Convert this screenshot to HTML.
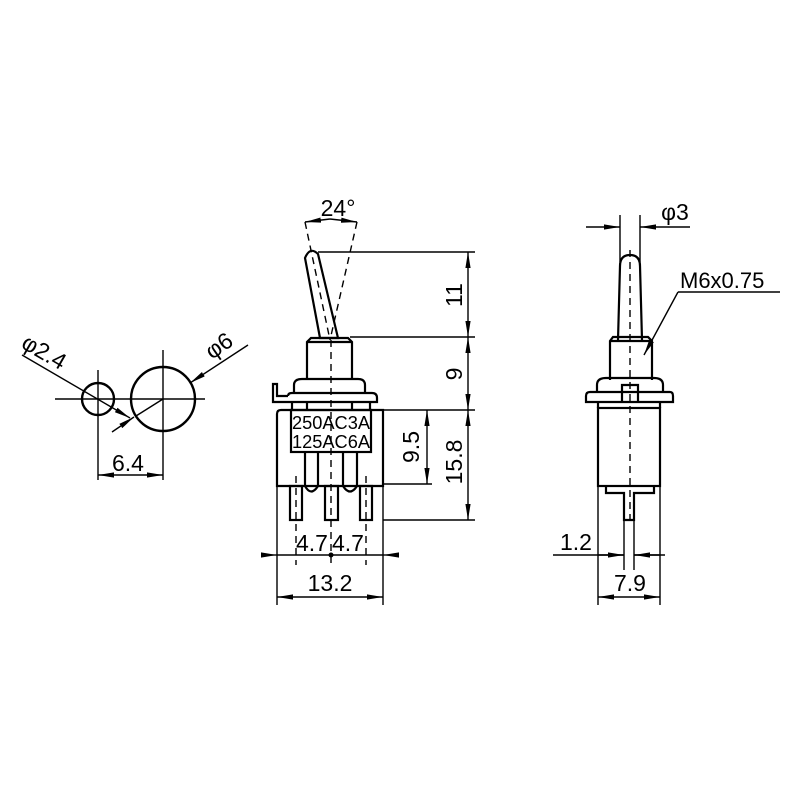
<!DOCTYPE html>
<html><head><style>body{margin:0;background:#fff}svg{display:block}</style></head><body>
<svg width="800" height="800" viewBox="0 0 800 800" xmlns="http://www.w3.org/2000/svg" font-family="Liberation Sans, sans-serif">
<defs>
<marker id="a" viewBox="0 0 16 6" refX="16" refY="3" markerWidth="16" markerHeight="6" markerUnits="userSpaceOnUse" orient="auto-start-reverse"><path d="M0,0.4 L16,3 L0,5.6 Z" fill="#000"/></marker>
</defs>
<rect width="800" height="800" fill="#fff"/>
<g stroke="#000" fill="none" stroke-width="1.4">
<line x1="55" y1="399" x2="205" y2="399"/>
<line x1="98" y1="370" x2="98" y2="480"/>
<line x1="163" y1="350" x2="163" y2="480"/>
<circle cx="98" cy="399" r="16" stroke-width="2.4"/>
<circle cx="163" cy="399" r="32" stroke-width="2.4"/>
<line x1="22" y1="355" x2="130" y2="418" marker-end="url(#a)"/>
<line x1="248" y1="345" x2="190" y2="383" marker-end="url(#a)"/>
<line x1="163" y1="399" x2="136" y2="416"/>
<line x1="112" y1="432" x2="134" y2="417" marker-end="url(#a)"/>
<line x1="98" y1="475" x2="130" y2="475" marker-start="url(#a)"/>
<line x1="130" y1="475" x2="163" y2="475" marker-end="url(#a)"/>

<g stroke-width="2.2">
<path d="M305,258 Q310,246 318,254 L338,338 L320,338 Z"/>
<path d="M307,380 L307,342 L311,338 L348,338 L352,342 L352,380"/>
<line x1="307" y1="342" x2="352" y2="342"/>
<path d="M294,393 L294,385 Q294,379 302,379 L358,379 Q365,379 365,385 L365,393"/>
<path d="M282,402 L273,402 L273,384 L277,384 L277,396 L288,396"/>
<path d="M288,396 Q288,393 292,393 L372,393 Q377,393 377,398 L377,402 L282,402"/>
<line x1="292" y1="402" x2="292" y2="410"/><line x1="307" y1="402" x2="307" y2="410"/>
<line x1="352" y1="402" x2="352" y2="410"/><line x1="370" y1="402" x2="370" y2="410"/>
<path d="M277,486 L277,414 Q277,410 281,410 L383,410 L383,486 Z"/>
<rect x="291" y="410" width="80" height="42"/>
<line x1="305" y1="452" x2="305" y2="486"/><line x1="318" y1="452" x2="318" y2="486"/>
<line x1="343" y1="452" x2="343" y2="486"/><line x1="357" y1="452" x2="357" y2="486"/>
<path d="M305,486 Q311,497 318,486"/><path d="M343,486 Q350,497 357,486"/>
<rect x="290" y="486" width="12" height="34"/>
<rect x="325" y="486" width="13" height="34"/>
<rect x="360" y="486" width="12" height="34"/>
</g>
<g stroke-dasharray="7,5">
<line x1="331" y1="340" x2="331" y2="565"/>
<line x1="296" y1="476" x2="296" y2="565"/>
<line x1="366" y1="476" x2="366" y2="565"/>
<line x1="305" y1="222" x2="330" y2="340"/>
<line x1="357" y1="222" x2="330" y2="340"/>
</g>
<line x1="305" y1="222" x2="330" y2="219" marker-start="url(#a)"/>
<line x1="330" y1="219" x2="357" y2="222" marker-end="url(#a)"/>
<line x1="318" y1="252" x2="475" y2="252"/>
<line x1="350" y1="337" x2="475" y2="337"/>
<line x1="383" y1="410" x2="475" y2="410"/>
<line x1="383" y1="520" x2="475" y2="520"/>
<line x1="383" y1="484" x2="432" y2="484"/>
<line x1="468" y1="252" x2="468" y2="337" marker-start="url(#a)" marker-end="url(#a)"/>
<line x1="468" y1="337" x2="468" y2="410" marker-start="url(#a)" marker-end="url(#a)"/>
<line x1="468" y1="410" x2="468" y2="520" marker-start="url(#a)" marker-end="url(#a)"/>
<line x1="427" y1="410" x2="427" y2="484" marker-start="url(#a)" marker-end="url(#a)"/>
<line x1="277" y1="486" x2="277" y2="605"/>
<line x1="383" y1="486" x2="383" y2="605"/>
<line x1="262" y1="555" x2="277" y2="555" marker-end="url(#a)"/>
<line x1="398" y1="555" x2="383" y2="555" marker-end="url(#a)"/>
<line x1="277" y1="555" x2="383" y2="555"/>
<line x1="277" y1="597" x2="330" y2="597" marker-start="url(#a)"/>
<line x1="330" y1="597" x2="383" y2="597" marker-end="url(#a)"/>

<g stroke-width="2.2">
<path d="M618,340 L620,266 Q620,255 630,255 Q640,255 640,266 L642,340"/>
<path d="M610,380 L610,341 L613,337 L648,337 L652,341 L652,380"/>
<line x1="610" y1="341" x2="652" y2="341"/>
<path d="M597,392 L597,385 Q597,378 606,378 L654,378 Q663,378 663,385 L663,392"/>
<path d="M590,392 L670,392 Q673,392 673,396 L673,402 L586,402 L586,396 Q586,392 590,392"/>
<path d="M622,402 L622,385 L638,385 L638,402"/>
<line x1="598" y1="402" x2="598" y2="408"/><line x1="660" y1="402" x2="660" y2="408"/>
<rect x="598" y="408" width="62" height="78"/>
<path d="M606,486 L606,493 L624,493 L624,520 L634,520 L634,493 L654,493 L654,486"/>
</g>
<line x1="630" y1="250" x2="630" y2="522" stroke-dasharray="7,5"/>
<line x1="620" y1="215" x2="620" y2="262"/>
<line x1="640" y1="215" x2="640" y2="262"/>
<line x1="586" y1="227" x2="620" y2="227" marker-end="url(#a)"/>
<line x1="690" y1="227" x2="640" y2="227" marker-end="url(#a)"/>
<line x1="678" y1="292" x2="780" y2="292"/>
<line x1="678" y1="292" x2="644" y2="355" marker-end="url(#a)"/>
<line x1="624" y1="520" x2="624" y2="570"/>
<line x1="634" y1="520" x2="634" y2="570"/>
<line x1="598" y1="486" x2="598" y2="605"/>
<line x1="660" y1="486" x2="660" y2="605"/>
<line x1="553" y1="555" x2="624" y2="555"/>
<line x1="665" y1="555" x2="634" y2="555"/>
<line x1="598" y1="555" x2="624" y2="555" marker-end="url(#a)"/>
<line x1="660" y1="555" x2="634" y2="555" marker-end="url(#a)"/>
<line x1="598" y1="597" x2="630" y2="597" marker-start="url(#a)"/>
<line x1="630" y1="597" x2="660" y2="597" marker-end="url(#a)"/>
</g>
<circle cx="331" cy="555" r="2.5" fill="#000"/>
<g fill="#000" font-size="23">
<text x="128" y="471" text-anchor="middle">6.4</text>
<text x="0" y="0" transform="translate(20,347) rotate(30)">φ2.4</text>
<text x="0" y="0" transform="translate(212,360) rotate(-35)">φ6</text>
<text x="338" y="216" text-anchor="middle">24°</text>
<text transform="translate(462,295) rotate(-90)" text-anchor="middle">11</text>
<text transform="translate(462,374) rotate(-90)" text-anchor="middle">9</text>
<text transform="translate(462,462) rotate(-90)" text-anchor="middle">15.8</text>
<text transform="translate(419,447) rotate(-90)" text-anchor="middle">9.5</text>
<text x="312" y="551" text-anchor="middle">4.7</text>
<text x="348" y="551" text-anchor="middle">4.7</text>
<text x="330" y="591" text-anchor="middle">13.2</text>
<text x="675" y="220" text-anchor="middle">φ3</text>
<text x="680" y="288" font-size="22">M6x0.75</text>
<text x="576" y="550" text-anchor="middle">1.2</text>
<text x="630" y="591" text-anchor="middle">7.9</text>
<text x="331" y="429" font-size="18" text-anchor="middle" textLength="78" lengthAdjust="spacingAndGlyphs">250AC3A</text>
<text x="331" y="448" font-size="18" text-anchor="middle" textLength="78" lengthAdjust="spacingAndGlyphs">125AC6A</text>
</g>
</svg>
</body></html>
